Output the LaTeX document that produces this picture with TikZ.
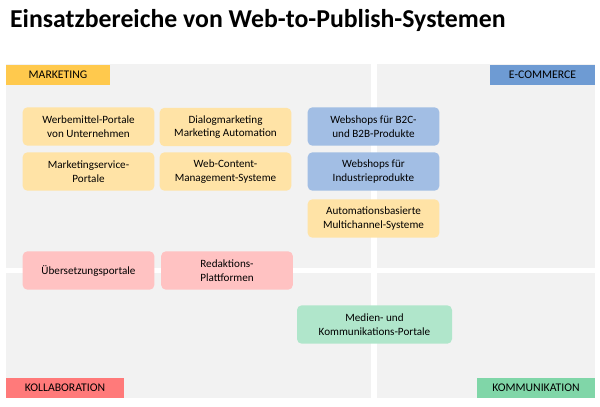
\documentclass[tikz,border=0pt]{standalone}
\usepackage{fontspec}
\setmainfont{Carlito}
\definecolor{mkt}{HTML}{FFC94D}
\definecolor{mktl}{HTML}{FFE3A6}
\definecolor{ecom}{HTML}{6E9BD3}
\definecolor{ecoml}{HTML}{A2BEE4}
\definecolor{kol}{HTML}{FF7A7A}
\definecolor{koll}{HTML}{FFC2C2}
\definecolor{kom}{HTML}{80D6A8}
\definecolor{koml}{HTML}{B0E6CB}
\definecolor{bg}{HTML}{F2F2F2}
\tikzset{
	area/.style={fill=bg, draw=none},
	tag/.style={fill=#1, inner sep=0pt, minimum height=0.6cm, font=\fontsize{10}{12}\selectfont},
	field/.style={fill=#1, rounded corners=4pt, minimum width=3.95cm, minimum height=1.15cm, inner sep=1pt, align=center, font=\fontsize{9.5}{11.5}\selectfont}
}
\begin{document}
\begin{tikzpicture}[x=0.03cm, y=-0.03cm]
	\useasboundingbox (0,0) rectangle (600,406);
	% quadrants
	\fill[area] (6,64) rectangle (371,268);
	\fill[area] (377,64) rectangle (595,268);
	\fill[area] (6,273) rectangle (371,398);
	\fill[area] (377,273) rectangle (595,398);
	
	\node[anchor=west, font=\fontsize{22}{26}\selectfont\bfseries] (title) at (6,20) {Einsatzbereiche von Web-to-Publish-Systemen};
	
	% corner labels
	\node[tag=mkt, minimum width=3.1cm] (marketing) at (58,74.5) {MARKETING};
	\node[tag=ecom, minimum width=3.15cm] (ecommerce) at (542.5,74.5) {E-COMMERCE};
	\node[tag=kol, minimum width=3.54cm] (kollaboration) at (65,388) {KOLLABORATION};
	\node[tag=kom, minimum width=3.54cm] (kommunikation) at (536,388) {KOMMUNIKATION};
	
	% fields
	\node[field=mktl] (werbemittel) at (88.5,126.5) {Werbemittel-Portale\\von Unternehmen};
	\node[field=mktl] (dialog) at (225.5,127) {Dialogmarketing\\Marketing Automation};
	\node[field=mktl] (service) at (88.5,171.5) {Marketingservice-\\Portale};
	\node[field=mktl] (wcms) at (225.5,171.5) {Web-Content-\\Management-Systeme};
	\node[field=ecoml] (b2c) at (373.5,126.5) {Webshops für B2C-\\und B2B-Produkte};
	\node[field=ecoml] (industrie) at (373.5,171.5) {Webshops für\\Industrieprodukte};
	\node[field=mktl] (multichannel) at (373.5,218.5) {Automationsbasierte\\Multichannel-Systeme};
	\node[field=koll] (uebersetzung) at (88.5,270.5) {Übersetzungsportale};
	\node[field=koll] (redaktion) at (227,270.5) {Redaktions-\\Plattformen};
	\node[field=koml, minimum width=4.65cm] (medien) at (374.5,324.5) {Medien- und\\Kommunikations-Portale};
\end{tikzpicture}
\end{document}
